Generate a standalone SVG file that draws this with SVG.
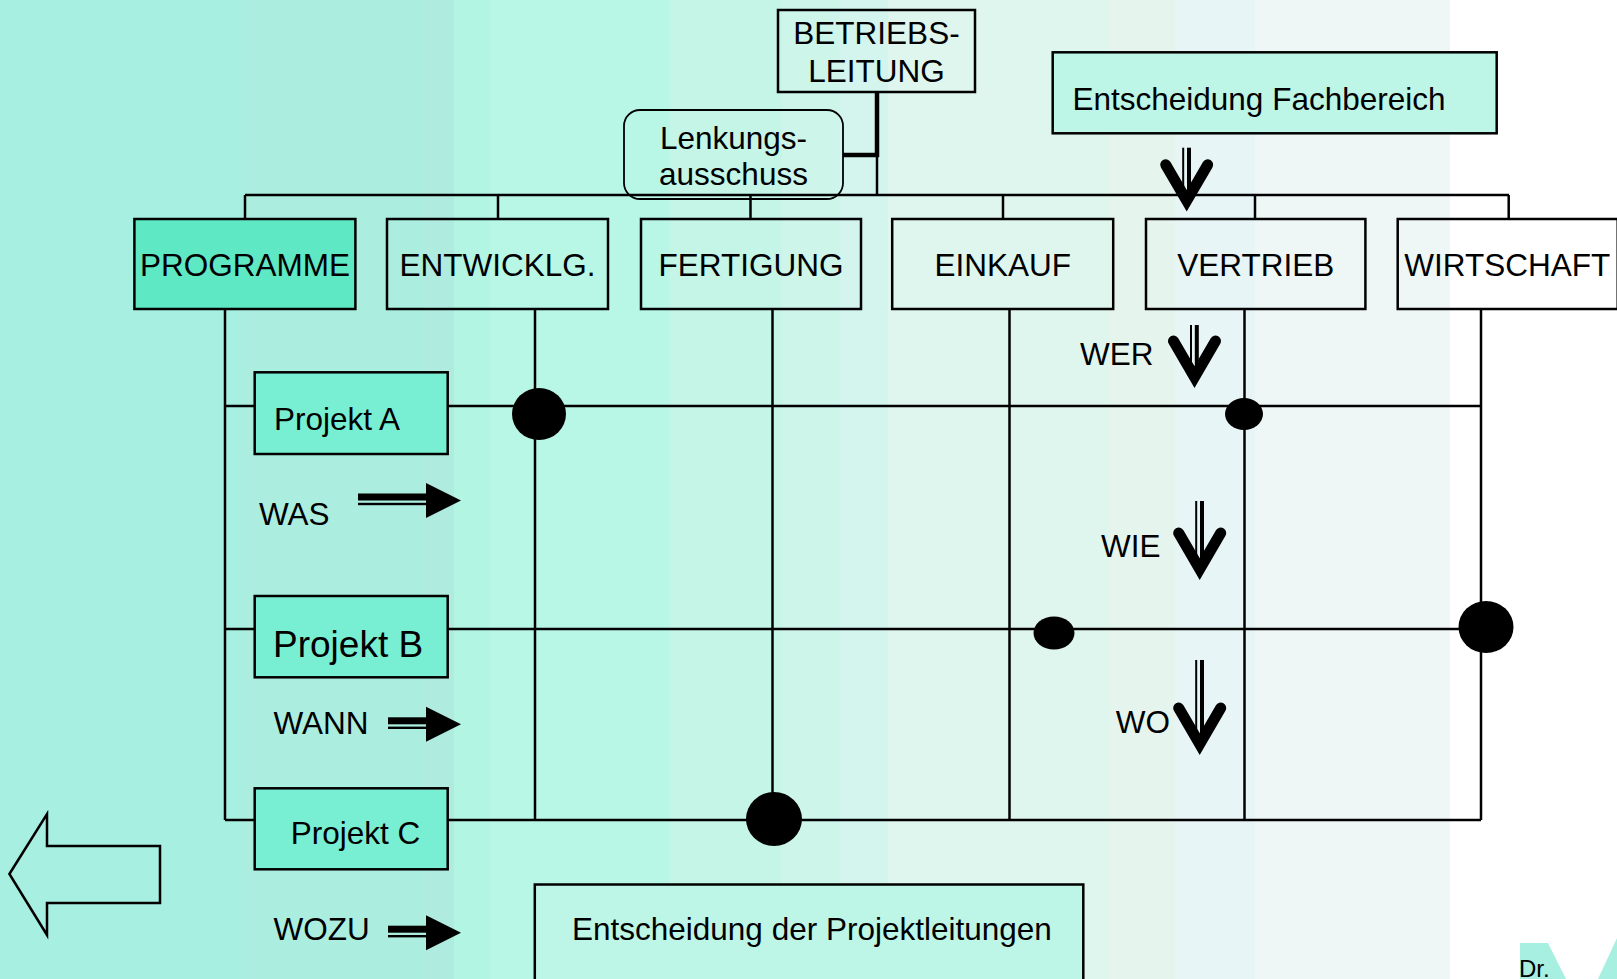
<svg xmlns="http://www.w3.org/2000/svg" xmlns:xlink="http://www.w3.org/1999/xlink" width="1617" height="979" viewBox="0 0 1617 979">
<style>
.t{font-family:"Liberation Sans",Arial,sans-serif;font-size:31.5px;fill:#000}
.m{text-anchor:middle}
.box{stroke:#000;stroke-width:2.5}
.ln{stroke:#000;stroke-width:2.5;fill:none}
.dot{fill:#000}
</style>
<defs>
<path id="vhead" d="M-21,-47 L0,-11 L21,-47" fill="none" stroke="#000" stroke-width="11" stroke-linecap="round" stroke-linejoin="miter"/>
<polygon id="hhead" points="0,-17.5 35,0 0,17.5" fill="#000"/>
</defs>
<g id="background">
<rect x="0" y="0" width="1617" height="979" fill="#ffffff"/>
<rect x="0" y="0" width="242" height="979" fill="#a6efe1"/>
<rect x="242" y="0" width="181" height="979" fill="#abeee0"/>
<rect x="423" y="0" width="31" height="979" fill="#b0ebdf"/>
<rect x="454" y="0" width="36" height="979" fill="#b2f5e3"/>
<rect x="490" y="0" width="180" height="979" fill="#b8f6e6"/>
<rect x="670" y="0" width="112" height="979" fill="#c4f5e7"/>
<rect x="782" y="0" width="58" height="979" fill="#cdf5ea"/>
<rect x="840" y="0" width="48" height="979" fill="#d4f5ee"/>
<rect x="888" y="0" width="222" height="979" fill="#dff6ef"/>
<rect x="1110" y="0" width="65" height="979" fill="#e6f4ee"/>
<rect x="1175" y="0" width="80" height="979" fill="#e8f5f6"/>
<rect x="1255" y="0" width="195" height="979" fill="#eef7f6"/>
</g>
<g id="connectors">
<line class="ln" x1="877" y1="92" x2="877" y2="157" style="stroke-width:4.5"/>
<line class="ln" x1="843" y1="155" x2="879" y2="155" style="stroke-width:4.5"/>
<line class="ln" x1="877" y1="155" x2="877" y2="195"/>
<line class="ln" x1="245" y1="195" x2="1509" y2="195"/>
<line class="ln" x1="245" y1="195" x2="245" y2="219"/>
<line class="ln" x1="498" y1="195" x2="498" y2="219"/>
<line class="ln" x1="750.5" y1="195" x2="750.5" y2="219"/>
<line class="ln" x1="1003" y1="195" x2="1003" y2="219"/>
<line class="ln" x1="1255" y1="195" x2="1255" y2="219"/>
<line class="ln" x1="1508.7" y1="195" x2="1508.7" y2="219"/>
<line class="ln" x1="225" y1="309" x2="225" y2="820"/>
<line class="ln" x1="535" y1="309" x2="535" y2="820"/>
<line class="ln" x1="772.5" y1="309" x2="772.5" y2="820"/>
<line class="ln" x1="1009.5" y1="309" x2="1009.5" y2="820"/>
<line class="ln" x1="1244.5" y1="309" x2="1244.5" y2="820"/>
<line class="ln" x1="1481" y1="309" x2="1481" y2="820"/>
<line class="ln" x1="225" y1="406" x2="255" y2="406"/>
<line class="ln" x1="447.7" y1="406" x2="1481" y2="406"/>
<line class="ln" x1="225" y1="629" x2="255" y2="629"/>
<line class="ln" x1="447.7" y1="629" x2="1481" y2="629"/>
<line class="ln" x1="225" y1="820" x2="255" y2="820"/>
<line class="ln" x1="447.7" y1="820" x2="1481" y2="820"/>
<ellipse class="dot" cx="539" cy="414" rx="27" ry="26"/>
<ellipse class="dot" cx="1244" cy="414" rx="19" ry="16"/>
<ellipse class="dot" cx="1054" cy="633" rx="20.5" ry="16.5"/>
<ellipse class="dot" cx="1486" cy="627" rx="27.5" ry="26"/>
<ellipse class="dot" cx="774" cy="819" rx="28" ry="27"/>
</g>
<g id="betriebsleitung">
<rect class="box" x="778" y="10" width="197" height="82" fill="none"/>
<text class="t m" x="876.5" y="44">BETRIEBS-</text>
<text class="t m" x="876.5" y="81.5">LEITUNG</text>
</g>
<g id="lenkungsausschuss">
<rect x="624" y="110" width="219" height="89" rx="16" fill="none" stroke="#000" stroke-width="1.8"/>
<text class="t m" x="733.5" y="149">Lenkungs-</text>
<text class="t m" x="733.5" y="185">ausschuss</text>
</g>
<g id="entscheidung-fachbereich">
<rect class="box" x="1052.7" y="52.3" width="444" height="81" fill="#bdf5e6"/>
<text class="t" x="1072.5" y="110">Entscheidung Fachbereich</text>
</g>
<g id="programme">
<rect class="box" x="134.4" y="219" width="221" height="90" fill="#5ee8c4"/>
<text class="t m" x="244.9" y="276">PROGRAMME</text>
</g>
<g id="entwicklg">
<rect class="box" x="387" y="219" width="221" height="90" fill="none"/>
<text class="t m" x="497.5" y="276">ENTWICKLG.</text>
</g>
<g id="fertigung">
<rect class="box" x="641" y="219" width="220" height="90" fill="none"/>
<text class="t m" x="751" y="276">FERTIGUNG</text>
</g>
<g id="einkauf">
<rect class="box" x="892.2" y="219" width="221" height="90" fill="none"/>
<text class="t m" x="1002.7" y="276">EINKAUF</text>
</g>
<g id="vertrieb">
<rect class="box" x="1146" y="219" width="219.4" height="90" fill="none"/>
<text class="t m" x="1255.7" y="276">VERTRIEB</text>
</g>
<g id="wirtschaft">
<rect class="box" x="1397.7" y="219" width="220" height="90" fill="none"/>
<text class="t m" x="1507.2" y="276">WIRTSCHAFT</text>
</g>
<g id="projekt-a">
<rect class="box" x="254.7" y="372.3" width="193" height="81.7" fill="#78efd2"/>
<text class="t" x="274" y="430">Projekt A</text>
</g>
<g id="projekt-b">
<rect class="box" x="254.7" y="596" width="193" height="81.3" fill="#78efd2"/>
<text class="t" x="273" y="657" style="font-size:37px">Projekt B</text>
</g>
<g id="projekt-c">
<rect class="box" x="254.7" y="788.3" width="193" height="81" fill="#78efd2"/>
<text class="t" x="290.8" y="844">Projekt C</text>
</g>
<g id="entscheidung-projektleitungen">
<rect class="box" x="534.8" y="884.5" width="548.5" height="120" fill="#bdf6e6"/>
<text class="t" x="572" y="940">Entscheidung der Projektleitungen</text>
</g>
<g id="arrow-fachbereich">
<g transform="translate(1186.7,211.7)">
<line x1="-3.5" y1="-64" x2="-3.5" y2="-15" stroke="#000" stroke-width="2"/>
<line x1="2.3" y1="-64" x2="2.3" y2="-15" stroke="#000" stroke-width="4"/>
<use xlink:href="#vhead"/>
</g>
</g>
<g id="label-wer">
<text class="t" x="1080" y="365">WER</text>
<g transform="translate(1194.5,388)">
<line x1="-3.5" y1="-63" x2="-3.5" y2="-15" stroke="#000" stroke-width="2"/>
<line x1="2.3" y1="-63" x2="2.3" y2="-15" stroke="#000" stroke-width="4"/>
<use xlink:href="#vhead"/>
</g>
</g>
<g id="label-wie">
<text class="t" x="1101" y="557">WIE</text>
<g transform="translate(1199.7,580)">
<line x1="-3.5" y1="-79" x2="-3.5" y2="-15" stroke="#000" stroke-width="2"/>
<line x1="2.3" y1="-79" x2="2.3" y2="-15" stroke="#000" stroke-width="4"/>
<use xlink:href="#vhead"/>
</g>
</g>
<g id="label-wo">
<text class="t" x="1115.8" y="733">WO</text>
<g transform="translate(1199.7,755)">
<line x1="-3.5" y1="-95" x2="-3.5" y2="-15" stroke="#000" stroke-width="2"/>
<line x1="2.3" y1="-95" x2="2.3" y2="-15" stroke="#000" stroke-width="4"/>
<use xlink:href="#vhead"/>
</g>
</g>
<g id="label-was">
<text class="t" x="259" y="525">WAS</text>
<g transform="translate(426,500.5)">
<rect x="-68" y="-7" width="69" height="7" fill="#000"/>
<rect x="-68" y="2.3" width="69" height="2.4" fill="#000"/>
<use xlink:href="#hhead"/>
</g>
</g>
<g id="label-wann">
<text class="t" x="273.5" y="734">WANN</text>
<g transform="translate(426,724.3)">
<rect x="-38" y="-7" width="39" height="7" fill="#000"/>
<rect x="-38" y="2.3" width="39" height="2.4" fill="#000"/>
<use xlink:href="#hhead"/>
</g>
</g>
<g id="label-wozu">
<text class="t" x="273.5" y="940">WOZU</text>
<g transform="translate(426,932.7)">
<rect x="-38" y="-7" width="39" height="7" fill="#000"/>
<rect x="-38" y="2.3" width="39" height="2.4" fill="#000"/>
<use xlink:href="#hhead"/>
</g>
</g>
<g id="back-arrow">
<polygon points="9.4,874 47,814 47,846 160,846 160,903 47,903 47,935" fill="none" stroke="#000" stroke-width="2.5" stroke-linejoin="miter"/>
</g>
<g id="logo">
<polygon points="1520,943 1548,943 1566,979 1520,979" fill="#a6efe1"/>
<polygon points="1617,938 1617,979 1598,979" fill="#a6efe1"/>
<text x="1519" y="977" style="font-family:'Liberation Sans',Arial,sans-serif;font-size:24px;fill:#000">Dr.</text>
</g>
</svg>
